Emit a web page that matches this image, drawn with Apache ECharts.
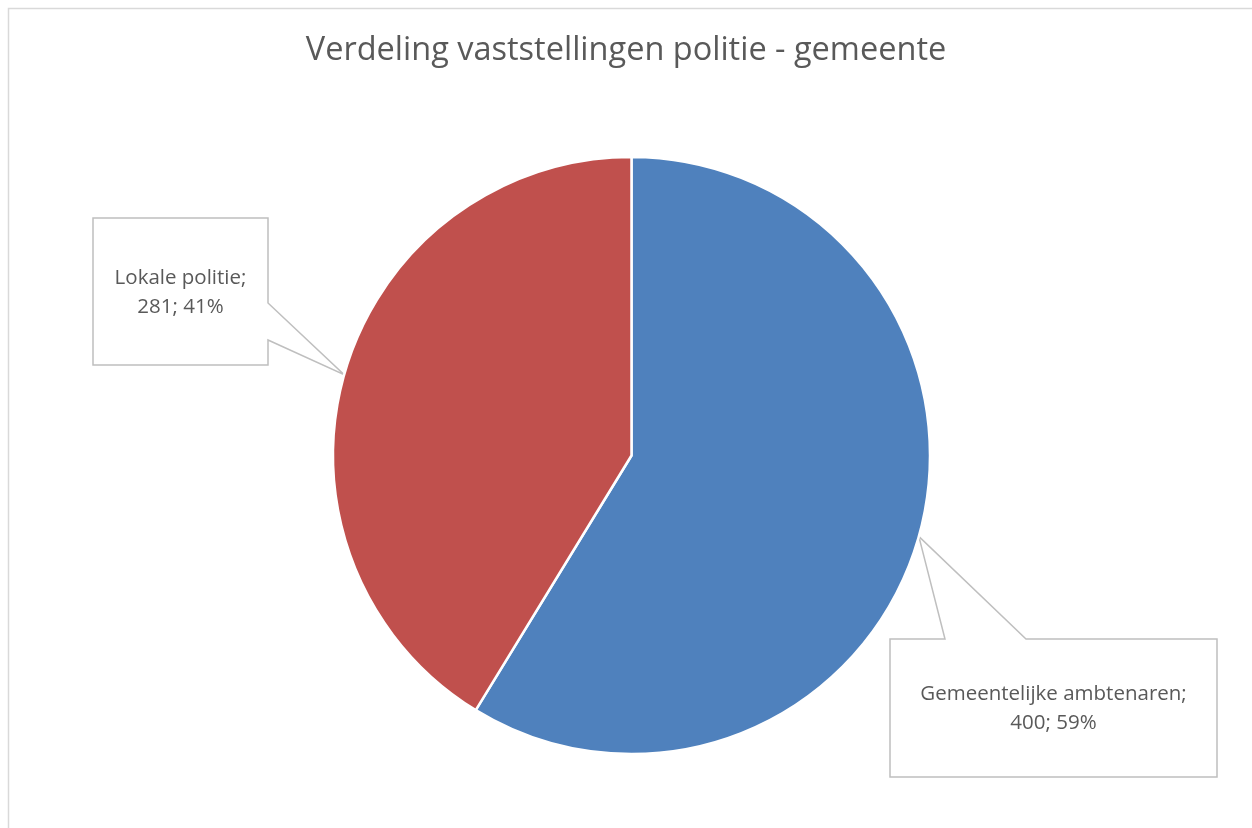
<!DOCTYPE html>
<html>
<head>
<meta charset="utf-8">
<script src="https://cdn.jsdelivr.net/npm/echarts@6/dist/echarts.min.js"></script>
<style>
  html, body { margin: 0; padding: 0; background: #fff; }
  #chart { width: 1252px; height: 828px; }
</style>
</head>
<body>
<div id="chart"></div>
<script>
const titleText = 'Verdeling vaststellingen politie - gemeente'
const categories = ['Gemeentelijke ambtenaren', 'Lokale politie']
const values = [400, 281]
const colors = ['#4F81BD', '#C0504D']

// pie geometry
const cx = 631.5
const cy = 455.5
const radius = 298.5

// callout boxes [left, top, right, bottom] and where the pointer leaves the box
const boxes = [
  { rect: [890, 639, 1217, 777], side: 'top', base: [945, 1026] },
  { rect: [93, 218, 268, 365], side: 'right', base: [303, 340] }
]

function midPoints() {
  const total = values.reduce((a, b) => a + b, 0)
  let angle = 90
  return values.map(v => {
    const sweep = v / total * 360
    const mid = (angle - sweep / 2) * Math.PI / 180
    angle -= sweep
    return [cx + radius * Math.cos(mid), cy - radius * Math.sin(mid)]
  })
}

function calloutShapes() {
  const tips = midPoints()
  return boxes.map((b, i) => {
    const [l, t, r, btm] = b.rect
    const tip = tips[i]
    let points
    if (b.side === 'top') {
      points = [[l, t], [b.base[0], t], tip, [b.base[1], t], [r, t], [r, btm], [l, btm]]
    } else {
      points = [[l, t], [r, t], [r, b.base[0]], tip, [r, b.base[1]], [r, btm], [l, btm]]
    }
    return {
      type: 'polygon',
      z: 1,
      shape: { points: points },
      style: { fill: '#fff', stroke: '#bfbfbf', lineWidth: 1.5 }
    }
  })
}

const chart = echarts.init(document.getElementById('chart'))

chart.setOption({
  backgroundColor: '#fff',
  animation: false,
  title: {
    text: titleText,
    left: 'center',
    top: 29,
    textStyle: {
      fontFamily: 'Open Sans',
      fontSize: 32.5,
      fontWeight: 'normal',
      color: '#595959'
    }
  },
  graphic: [
    {
      type: 'rect',
      z: 0,
      shape: { x: 8.5, y: 8.5, width: 1400, height: 1000 },
      style: { fill: 'none', stroke: '#d9d9d9', lineWidth: 1.5 }
    }
  ].concat(calloutShapes()),
  series: [{
    type: 'pie',
    center: [cx, cy],
    radius: radius,
    startAngle: 90,
    clockwise: true,
    percentPrecision: 0,
    data: categories.map((name, i) => ({
      name: name,
      value: values[i],
      itemStyle: { color: colors[i] }
    })),
    itemStyle: { borderColor: '#fff', borderWidth: 2.5 },
    emphasis: { disabled: true },
    label: {
      show: true,
      formatter: '{b};\n{c}; {d}%',
      fontFamily: 'Open Sans',
      fontSize: 20.5,
      lineHeight: 29,
      color: '#595959',
      align: 'center'
    },
    labelLine: { show: false },
    labelLayout: function (params) {
      const r = boxes[params.dataIndex].rect
      return {
        x: (r[0] + r[2]) / 2,
        y: (r[1] + r[3]) / 2 + 1,
        align: 'center',
        verticalAlign: 'middle'
      }
    }
  }]
})
</script>
</body>
</html>
